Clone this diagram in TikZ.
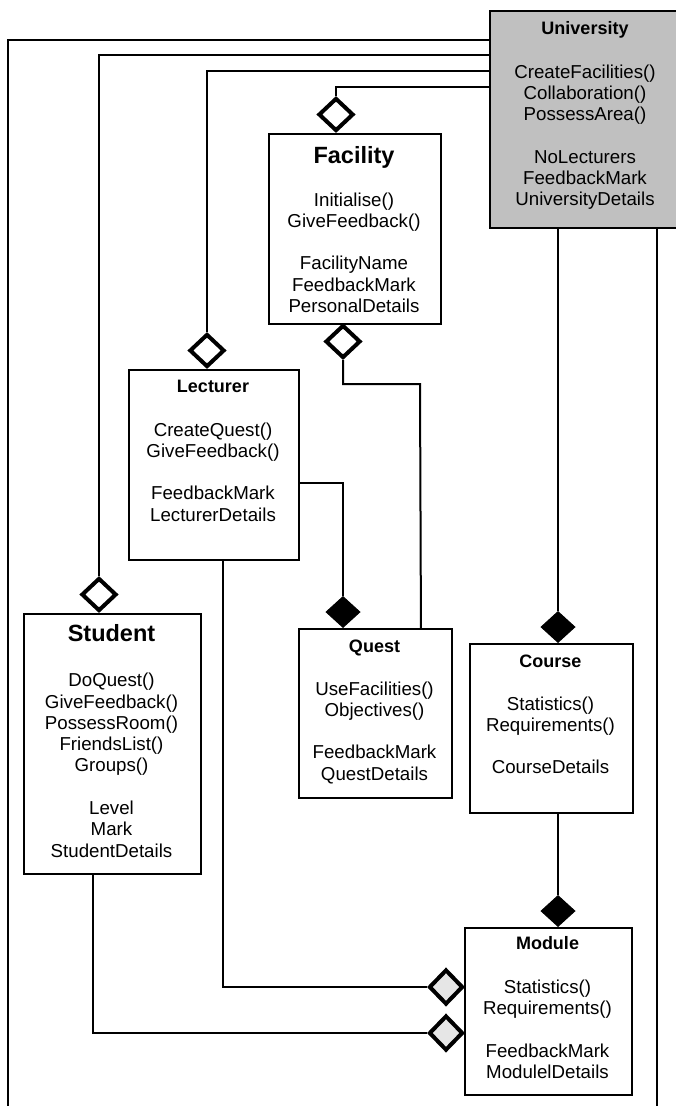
\documentclass[tikz,border=0pt]{standalone}
\usepackage{fontspec}
\setmainfont{Liberation Sans}
\usetikzlibrary{shapes.geometric}
\definecolor{unigrey}{RGB}{192,192,192}
\definecolor{aggrey}{RGB}{230,230,230}
\newcommand{\bodylines}[1]{\begin{tabular}[t]{@{}c@{}}#1\end{tabular}}
\begin{document}
\begin{tikzpicture}[x=1pt,y=-1pt,
  classbox/.style={draw=black,line width=1.9pt,rectangle,inner sep=0pt,anchor=north west},
  conn/.style={draw=black,line width=2pt},
  hollowd/.style={draw=black,fill=white,line width=4pt,diamond,inner sep=0pt,minimum width=35pt,minimum height=33pt},
  greyd/.style={draw=black,fill=aggrey,line width=4pt,diamond,inner sep=0pt,minimum width=34pt,minimum height=35pt},
  filledd/.style={draw=black,fill=black,line width=1pt,diamond,inner sep=0pt,minimum width=34pt,minimum height=31pt},
  ttl/.style={anchor=base,inner sep=0pt,font=\fontsize{18}{21}\selectfont\bfseries},
  bigttl/.style={anchor=base,inner sep=0pt,font=\fontsize{23.5}{27}\selectfont\bfseries},
  body/.style={anchor=base,inner sep=0pt,font=\fontsize{18.7}{21.3}\selectfont}]
\useasboundingbox[fill=white] (0,0) rectangle (676,1106);

% class boxes
\node[classbox,fill=unigrey,minimum width=192pt,minimum height=217pt] (uni) at (489,10) {};
\node[classbox,fill=white,minimum width=172pt,minimum height=190pt] (fac) at (268,133) {};
\node[classbox,fill=white,minimum width=170pt,minimum height=190pt] (lec) at (128,369) {};
\node[classbox,fill=white,minimum width=177pt,minimum height=260pt] (stu) at (23,613) {};
\node[classbox,fill=white,minimum width=153pt,minimum height=169pt] (quest) at (298,628) {};
\node[classbox,fill=white,minimum width=163pt,minimum height=169pt] (course) at (469,643) {};
\node[classbox,fill=white,minimum width=167pt,minimum height=167pt] (mod) at (464,927) {};

% texts
\node[ttl] (unit) at (585,34.7) {University};
\node[body] (unib) at (585,78) {\bodylines{CreateFacilities()\\ Collaboration()\\ PossessArea()\\ \\ NoLecturers\\ FeedbackMark\\ UniversityDetails}};
\node[bigttl] (fact) at (354,163) {Facility};
\node[body] (facb) at (354,206) {\bodylines{Initialise()\\ GiveFeedback()\\ \\ FacilityName\\ FeedbackMark\\ PersonalDetails}};
\node[ttl] (lect) at (213,392.5) {Lecturer};
\node[body] (lecb) at (213,436) {\bodylines{CreateQuest()\\ GiveFeedback()\\ \\ FeedbackMark\\ LecturerDetails}};
\node[bigttl] (stut) at (111.5,641) {Student};
\node[body] (stub) at (111.5,686.7) {\bodylines{DoQuest()\\ GiveFeedback()\\ PossessRoom()\\ FriendsList()\\ Groups()\\ \\ Level\\ Mark\\ StudentDetails}};
\node[ttl] (questt) at (374.5,652.5) {Quest};
\node[body] (questb) at (374.5,695) {\bodylines{UseFacilities()\\ Objectives()\\ \\ FeedbackMark\\ QuestDetails}};
\node[ttl] (courset) at (550.5,667) {Course};
\node[body] (courseb) at (550.5,710) {\bodylines{Statistics()\\ Requirements()\\ \\ CourseDetails}};
\node[ttl] (modt) at (547.5,949) {Module};
\node[body] (modb) at (547.5,993.4) {\bodylines{Statistics()\\ Requirements()\\ \\ FeedbackMark\\ ModulelDetails}};

% free ends and bends
\coordinate (outL) at (8,1106);
\coordinate (outR) at (657,1106);
\coordinate (fbend) at (420,384);

% connectors
\draw[conn] ([yshift=-30pt]uni.north west) -| (outL);
\draw[conn] (uni.south -| outR) -- (outR);

% diamonds
\node[hollowd,anchor=south] (dFacTop) at (336,133) {};
\node[hollowd,anchor=south] (dLec) at (207,369) {};
\node[hollowd,anchor=south] (dStu) at (99,613) {};
\node[hollowd,anchor=north] (dFacBot) at (343,323) {};
\node[filledd,anchor=south] (dQuest) at (343,628) {};
\node[filledd,anchor=south] (dCourse) at (558,643) {};
\node[filledd,anchor=south] (dModTop) at (558,927) {};
\node[greyd,anchor=east] (dModA) at (465,987) {};
\node[greyd,anchor=east] (dModB) at (465,1033) {};

\draw[conn] ([yshift=-45pt]uni.north west) -| (dStu.north);
\draw[conn] ([yshift=-61pt]uni.north west) -| (dLec.north);
\draw[conn] ([yshift=-77pt]uni.north west) -| (dFacTop.north);
\draw[conn] (uni.south -| dCourse.north) -- (dCourse.north);
\draw[conn] (dFacBot.south) |- (fbend) -- ([xshift=45.5pt]quest.north);
\draw[conn] ([yshift=-114pt]lec.north east) -| (dQuest.north);
\draw[conn] ([xshift=9pt]lec.south) |- (dModA.west);
\draw[conn] ([xshift=-19.5pt]stu.south) |- (dModB.west);
\draw[conn] (course.south -| dModTop.north) -- (dModTop.north);
\end{tikzpicture}
\end{document}
